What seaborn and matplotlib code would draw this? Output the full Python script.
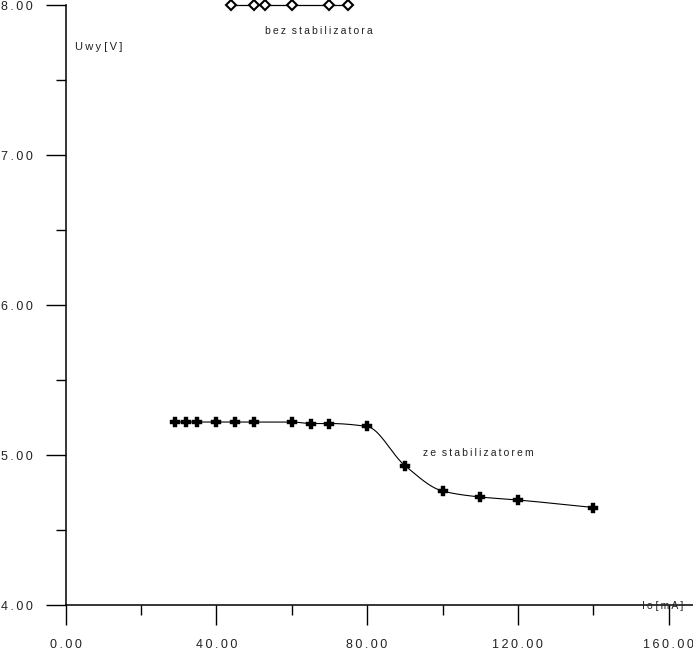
import numpy as np
import pandas as pd
import matplotlib
matplotlib.use("Agg")
import matplotlib.pyplot as plt
import seaborn as sns
from matplotlib.ticker import FixedLocator

# ---- data ----
io_ze = [29, 32, 35, 40, 45, 50, 60, 65, 70, 80, 90, 100, 110, 120, 140]
uwy_ze = [5.22, 5.22, 5.22, 5.22, 5.22, 5.22, 5.22, 5.21, 5.21, 5.19, 4.93, 4.76, 4.72, 4.70, 4.65]
io_bez = [44, 50, 53, 60, 70, 75]
uwy_bez = [8.0, 8.0, 8.0, 8.0, 8.0, 8.0]
x_ticks = [0, 40, 80, 120, 160]
x_minor = [20, 60, 100, 140]
x_tick_labels = ["0.00", "40.00", "80.00", "120.00", "160.00"]
y_ticks = [4, 5, 6, 7, 8]
y_minor = [4.5, 5.5, 6.5, 7.5]
y_tick_labels = ["4.00", "5.00", "6.00", "7.00", "8.00"]

sns.set_theme(style="white")
plt.rcParams['font.family'] = ['Liberation Sans', 'DejaVu Sans']

THIN = "\u2009"


def spaced(s, word_gap="  "):
    out = ""
    for i, ch in enumerate(s):
        if ch == " ":
            out += word_gap
            continue
        out += ch
        if i < len(s) - 1 and s[i + 1] != " ":
            out += THIN
    return out


def pchip(x, y, xn):
    x = np.asarray(x, float); y = np.asarray(y, float)
    h = np.diff(x); d = np.diff(y) / h
    m = np.zeros_like(y)
    for k in range(1, len(x) - 1):
        if d[k - 1] * d[k] > 0:
            w1 = 2 * h[k] + h[k - 1]; w2 = h[k] + 2 * h[k - 1]
            m[k] = (w1 + w2) / (w1 / d[k - 1] + w2 / d[k])
    m[0] = d[0]; m[-1] = d[-1]
    idx = np.clip(np.searchsorted(x, xn) - 1, 0, len(x) - 2)
    t = (xn - x[idx]) / h[idx]
    h00 = 2 * t**3 - 3 * t**2 + 1; h10 = t**3 - 2 * t**2 + t
    h01 = -2 * t**3 + 3 * t**2; h11 = t**3 - t**2
    return h00 * y[idx] + h10 * h[idx] * m[idx] + h01 * y[idx + 1] + h11 * h[idx] * m[idx + 1]


fig = plt.figure(figsize=(6.93, 6.61), dpi=100)
W, H = 693, 661
x0px, y0px, ytop = 65.5, 605, 5
ax = fig.add_axes([x0px / W, (H - y0px) / H, (W - x0px) / W, (y0px - ytop) / H])

df_ze = pd.DataFrame({"Io": io_ze, "Uwy": uwy_ze})
df_bez = pd.DataFrame({"Io": io_bez, "Uwy": uwy_bez})
xs = np.linspace(io_ze[0], io_ze[-1], 400)
df_curve = pd.DataFrame({"Io": xs, "Uwy": pchip(io_ze, uwy_ze, xs)})

sns.lineplot(data=df_curve, x="Io", y="Uwy", ax=ax, color="black", lw=0.8, sort=False)
sns.scatterplot(data=df_ze, x="Io", y="Uwy", ax=ax, marker="P", s=42, color="black",
                edgecolor="black", linewidth=0.3, zorder=5)
sns.lineplot(data=df_bez, x="Io", y="Uwy", ax=ax, color="black", lw=0.9,
             marker="D", markersize=5, markerfacecolor="white", markeredgecolor="black",
             markeredgewidth=1.5)
for ln in ax.lines:
    ln.set_clip_on(False)

ax.set_xlim(0, (W - x0px) / 3.77)
ax.set_ylim(4, 8)
ax.set_xlabel(""); ax.set_ylabel("")
for s in ["top", "right"]:
    ax.spines[s].set_visible(False)
for s in ["left", "bottom"]:
    ax.spines[s].set_color("black"); ax.spines[s].set_linewidth(1.1)

ax.xaxis.set_major_locator(FixedLocator(x_ticks))
ax.xaxis.set_minor_locator(FixedLocator(x_minor))
ax.yaxis.set_major_locator(FixedLocator(y_ticks))
ax.yaxis.set_minor_locator(FixedLocator(y_minor))
ax.set_xticklabels([spaced(t) for t in x_tick_labels])
ax.set_yticklabels([spaced(t) for t in y_tick_labels])
ax.tick_params(which="major", direction="out", length=14.4, width=1.0, color="black",
               labelsize=9, labelcolor="#222222")
ax.tick_params(which="minor", direction="out", length=7.2, width=1.0, color="black")
ax.tick_params(axis="y", which="both", left=True, pad=9.4)
ax.tick_params(axis="x", which="both", bottom=True, pad=10)

txt = dict(color="#222222", ha="left", va="baseline")
ax.text(2.5, 7.70, spaced("Uwy [V]", " "), fontsize=8, **txt)
ax.text(52.9, 7.805, spaced("bez stabilizatora"), fontsize=7.5, **txt)
ax.text(94.7, 4.99, spaced("ze stabilizatorem"), fontsize=7.5, **txt)
ax.text(153.0, 3.993, spaced("Io [mA]", " "), fontsize=7.5, clip_on=False,
        color="#222222", ha="left", va="center")

fig.savefig("out.png", dpi=100)
